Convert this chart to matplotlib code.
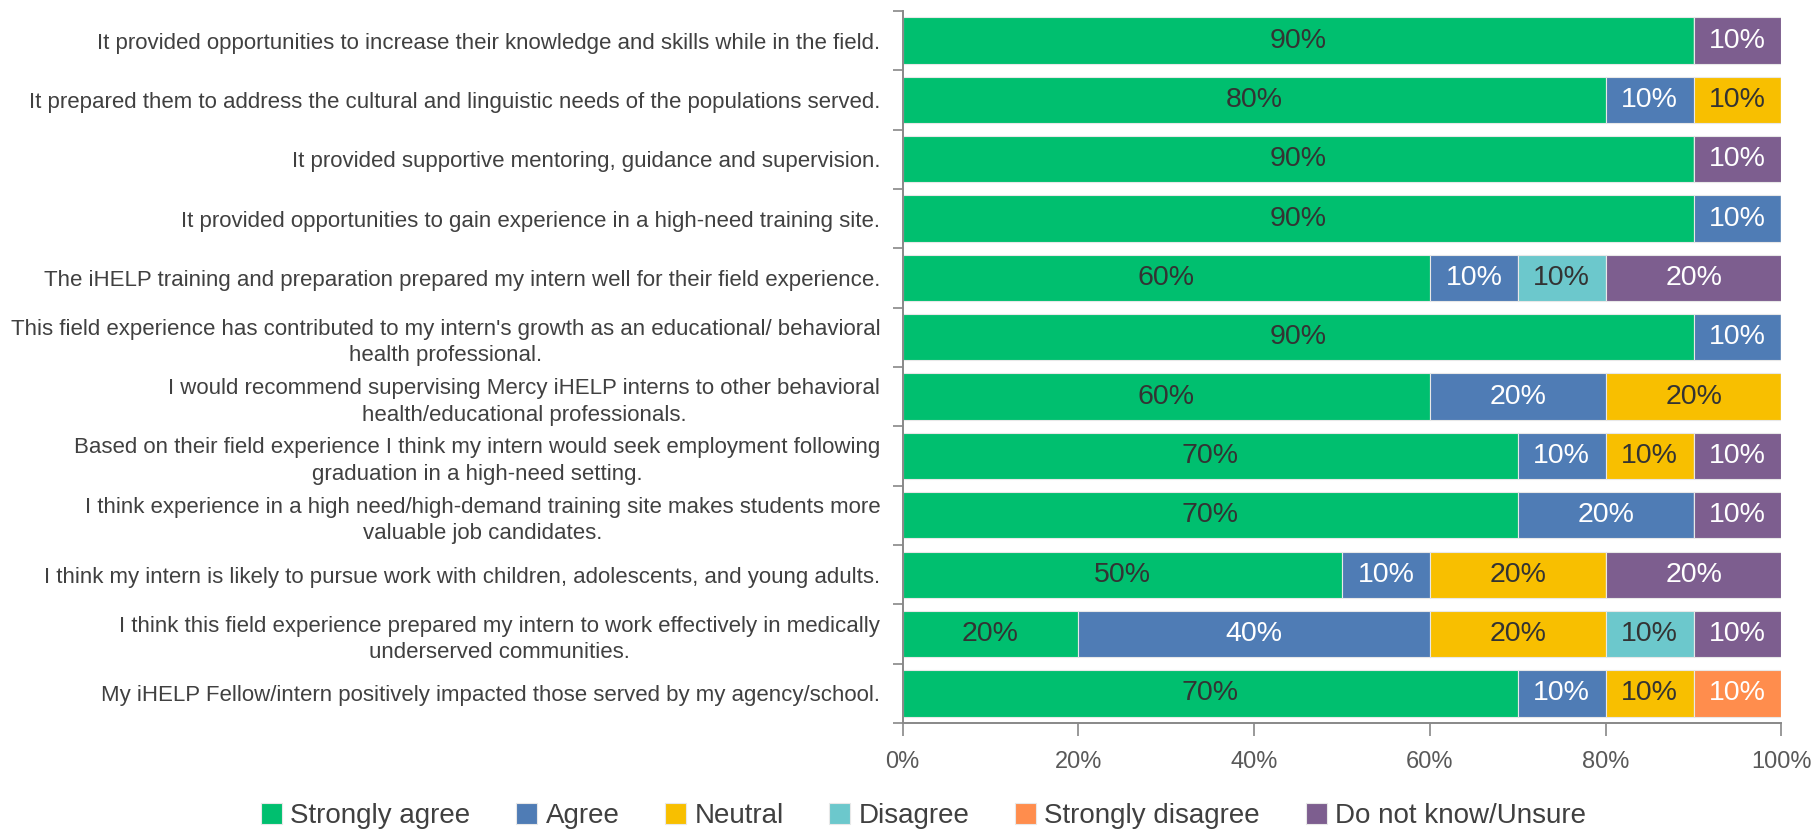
import numpy as np
import matplotlib
matplotlib.use("Agg")
import matplotlib.pyplot as plt
from matplotlib.ticker import FixedLocator, PercentFormatter

plt.rcParams['font.family'] = ['Liberation Sans Narrow', 'Liberation Sans', 'DejaVu Sans']

statements = [
    "It provided opportunities to increase their knowledge and skills while in the field.",
    "It prepared them to address the cultural and linguistic needs of the populations served.",
    "It provided supportive mentoring, guidance and supervision.",
    "It provided opportunities to gain experience in a high-need training site.",
    "The iHELP training and preparation prepared my intern well for their field experience.",
    "This field experience has contributed to my intern's growth as an educational/ behavioral\nhealth professional.",
    "I would recommend supervising Mercy iHELP interns to other behavioral\nhealth/educational professionals.",
    "Based on their field experience I think my intern would seek employment following\ngraduation in a high-need setting.",
    "I think experience in a high need/high-demand training site makes students more\nvaluable job candidates.",
    "I think my intern is likely to pursue work with children, adolescents, and young adults.",
    "I think this field experience prepared my intern to work effectively in medically\nunderserved communities.",
    "My iHELP Fellow/intern positively impacted those served by my agency/school.",
]

responses = ["Strongly agree", "Agree", "Neutral", "Disagree", "Strongly disagree", "Do not know/Unsure"]

strongly_agree    = [90, 80, 90, 90, 60, 90, 60, 70, 70, 50, 20, 70]
agree             = [0, 10, 0, 10, 10, 10, 20, 10, 20, 10, 40, 10]
neutral           = [0, 10, 0, 0, 0, 0, 20, 10, 0, 20, 20, 10]
disagree          = [0, 0, 0, 0, 10, 0, 0, 0, 0, 0, 10, 0]
strongly_disagree = [0, 0, 0, 0, 0, 0, 0, 0, 0, 0, 0, 10]
unsure            = [10, 0, 10, 0, 20, 0, 0, 10, 10, 20, 10, 0]

series = [strongly_agree, agree, neutral, disagree, strongly_disagree, unsure]
colors = ['#00BF6F', '#4F7CB5', '#F8BF00', '#6CC8CC', '#FF8D4D', '#7D5E8F']
text_colors = ['#333333', 'white', '#333333', '#333333', 'white', 'white']

fig = plt.figure(figsize=(18.16, 8.33), dpi=100)
ax = fig.add_axes([0.497, 0.132, 0.484, 0.855])

y = np.arange(len(statements))
left = np.zeros(len(statements))
for name, vals, col, tcol in zip(responses, series, colors, text_colors):
    vals = np.array(vals, dtype=float)
    bars = ax.barh(y, vals, left=left, height=0.78, color=col, label=name,
                   edgecolor='#E8E8E8', linewidth=0.8)
    for b, v in zip(bars, vals):
        if v > 0:
            ax.text(b.get_x() + b.get_width() / 2, b.get_y() + b.get_height() / 2,
                    f"{v:.0f}%", ha='center', va='center', color=tcol, fontsize=20.5)
    left += vals

ax.set_xlim(0, 100)
ax.set_ylim(len(statements) - 0.5, -0.5)
ax.xaxis.set_major_formatter(PercentFormatter(decimals=0))
ax.set_xticks(np.arange(0, 101, 20))
ax.tick_params(axis='x', colors='#888888', labelcolor='#595959', labelsize=17,
               length=9, width=1.2, pad=11)

ax.set_yticks(y)
ax.set_yticklabels(statements, fontsize=16, color='#404040', linespacing=1.35)
for lbl in ax.get_yticklabels():
    lbl.set_multialignment('center')
ax.tick_params(axis='y', which='major', length=0, pad=16)
ax.yaxis.set_minor_locator(FixedLocator(np.arange(-0.5, len(statements), 1.0)))
ax.tick_params(axis='y', which='minor', length=7, width=1.2, color='#888888')

for s in ['top', 'right']:
    ax.spines[s].set_visible(False)
for s in ['left', 'bottom']:
    ax.spines[s].set_color('#888888')
    ax.spines[s].set_linewidth(1.4)

leg = fig.legend(loc='center', bbox_to_anchor=(0.5086, 0.02), ncol=6, frameon=False,
                 fontsize=20, handlelength=0.75, handleheight=0.75, handletextpad=0.3,
                 columnspacing=1.65, labelcolor='#404040')

fig.savefig('out.png', dpi=100)
